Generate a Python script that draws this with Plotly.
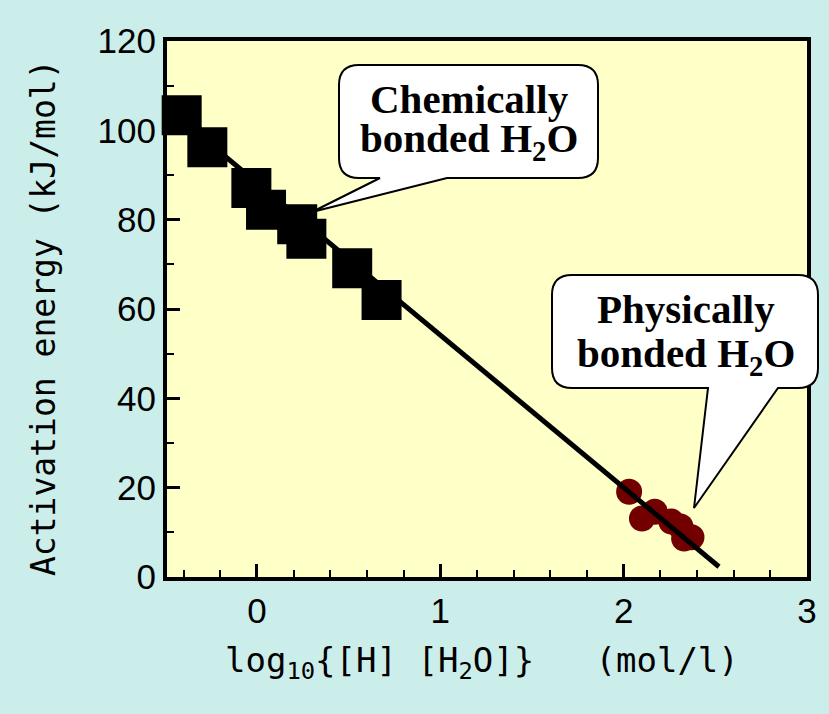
import plotly.graph_objects as go

# ---- data ----
chem_x = [-0.41, -0.27, -0.03, 0.05, 0.22, 0.27, 0.52, 0.68]
chem_y = [103.4, 96.2, 87.1, 82.2, 79.0, 75.7, 69.1, 62.0]
phys_x = [2.03, 2.10, 2.17, 2.26, 2.31, 2.33, 2.37]
phys_y = [19.1, 13.1, 14.6, 12.4, 11.3, 8.6, 8.9]
fit_x = [-0.42, 2.52]
fit_y = [102.6, 2.3]
x_ticks = [0, 1, 2, 3]
y_ticks = [0, 20, 40, 60, 80, 100, 120]

# ---- layout geometry (pixels) ----
L, T, W, H = 167, 41, 640, 536
FIG_W, FIG_H = 829, 714


def px(x):
    return (x - L) / W


def py(y):
    return (T + H - y) / H


def bubble(x0, y0, x1, y1, r, tail_a, tail_b, tip):
    pts = []
    cmds = [
        ("M", (x0 + r, y0)), ("L", (x1 - r, y0)), ("Q", (x1, y0, x1, y0 + r)),
        ("L", (x1, y1 - r)), ("Q", (x1, y1, x1 - r, y1)),
        ("L", (tail_b, y1)), ("L", tip), ("L", (tail_a, y1)),
        ("L", (x0 + r, y1)), ("Q", (x0, y1, x0, y1 - r)),
        ("L", (x0, y0 + r)), ("Q", (x0, y0, x0 + r, y0)),
    ]
    for c, p in cmds:
        coords = []
        for i in range(0, len(p), 2):
            coords.append(f"{px(p[i]):.5f},{py(p[i+1]):.5f}")
        pts.append(c + " " + " ".join(coords))
    return " ".join(pts) + " Z"


fig = go.Figure()
fig.add_trace(go.Scatter(x=phys_x, y=phys_y, mode="markers",
                         marker=dict(symbol="circle", size=26, color="#720000"),
                         cliponaxis=False, showlegend=False))
fig.add_trace(go.Scatter(x=fit_x, y=fit_y, mode="lines",
                         line=dict(color="black", width=5), showlegend=False))
fig.add_trace(go.Scatter(x=chem_x, y=chem_y, mode="markers",
                         marker=dict(symbol="square", size=40, color="black"),
                         cliponaxis=False, showlegend=False))

tickfont = dict(family="Liberation Sans, Arial", size=35, color="black")
fig.update_xaxes(range=[-0.49, 3.0], tickvals=x_ticks, ticktext=[str(v) for v in x_ticks],
                 ticks="inside", ticklen=13, tickwidth=3, tickcolor="black",
                 minor=dict(dtick=0.2, tick0=0, ticks="inside", ticklen=7, tickwidth=2, tickcolor="black"),
                 showline=True, linewidth=4, linecolor="black", mirror=True,
                 showgrid=False, zeroline=False, tickfont=tickfont)
fig.update_yaxes(range=[0, 120], tickvals=y_ticks, ticktext=[str(v) for v in y_ticks],
                 ticks="inside", ticklen=13, tickwidth=3, tickcolor="black",
                 minor=dict(dtick=10, tick0=0, ticks="inside", ticklen=7, tickwidth=2, tickcolor="black"),
                 showline=True, linewidth=4, linecolor="black", mirror=True,
                 showgrid=False, zeroline=False, tickfont=tickfont)

shapes = [
    dict(type="path", xref="paper", yref="paper", layer="above",
         path=bubble(339, 65, 598, 178, 20, 380, 447, (312, 212)),
         fillcolor="white", line=dict(color="black", width=2)),
    dict(type="path", xref="paper", yref="paper", layer="above",
         path=bubble(552, 275, 818, 388, 20, 708, 778, (694, 508)),
         fillcolor="white", line=dict(color="black", width=2)),
]

serif = dict(family="Liberation Serif, Times New Roman", size=41, color="black")
mono = dict(family="DejaVu Sans Mono, monospace", color="black")
annotations = [
    dict(x=px(469), y=py(99), text="<b>Chemically</b>"),
    dict(x=px(469), y=py(141), text="<b>bonded H<sub>2</sub>O</b>"),
    dict(x=px(686), y=py(309), text="<b>Physically</b>"),
    dict(x=px(686), y=py(356), text="<b>bonded H<sub>2</sub>O</b>"),
]
for a in annotations:
    a.update(xref="paper", yref="paper", showarrow=False, font=serif,
             xanchor="center", yanchor="middle")
annotations.append(dict(x=px(482), y=py(662), xref="paper", yref="paper", showarrow=False,
                        text="log<sub>10</sub>{[H] [H<sub>2</sub>O]}\u00a0\u00a0\u00a0(mol/l)",
                        font=dict(size=34, **mono), xanchor="center", yanchor="middle"))
annotations.append(dict(x=px(43), y=py(318), xref="paper", yref="paper", showarrow=False,
                        text="Activation energy (kJ/mol)", textangle=-90,
                        font=dict(size=33, **mono), xanchor="center", yanchor="middle"))

fig.update_layout(width=FIG_W, height=FIG_H,
                  margin=dict(l=L, r=FIG_W - L - W, t=T, b=FIG_H - T - H, autoexpand=False),
                  paper_bgcolor="#CCEEEB", plot_bgcolor="#FFFFC8",
                  shapes=shapes, annotations=annotations, showlegend=False)

fig.write_html("out.html", config={"displayModeBar": False, "staticPlot": True},
               post_script="document.body.style.margin='0';document.body.style.overflow='hidden';")
